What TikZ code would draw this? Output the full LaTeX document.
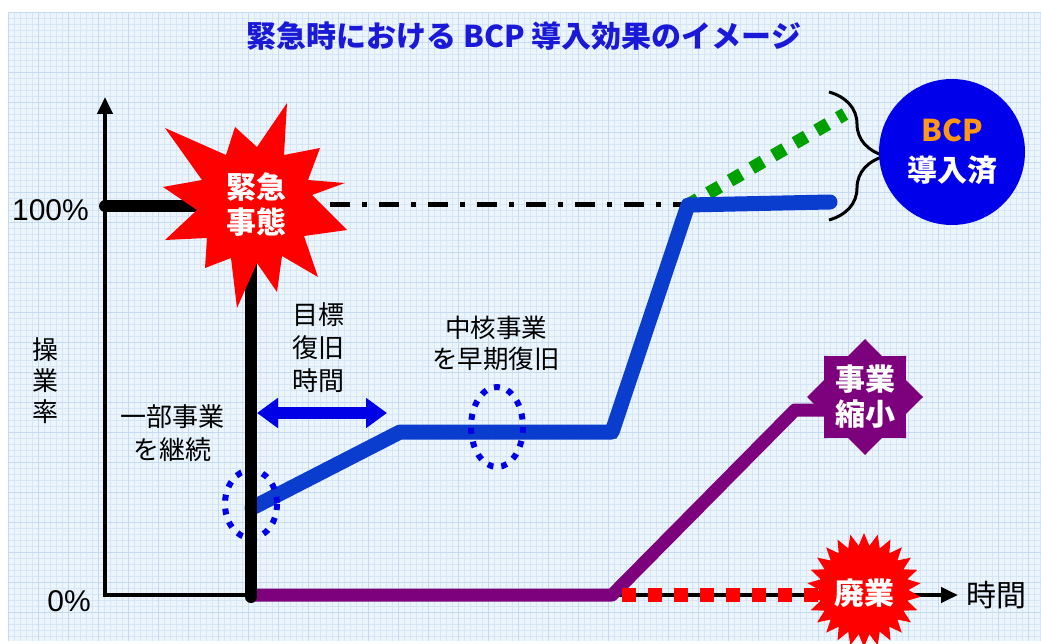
\documentclass[tikz,border=0pt]{standalone}
\usepackage{fontspec}
\setmainfont{Liberation Sans}
\newfontfamily\jp{Noto Sans CJK JP}
\usetikzlibrary{arrows.meta,shapes.geometric,decorations.pathreplacing}
\definecolor{bgblue}{RGB}{236,244,252}
\definecolor{gridc}{RGB}{214,230,247}
\definecolor{gridm}{RGB}{196,218,241}
\definecolor{titleblue}{RGB}{25,25,215}
\definecolor{lineblue}{RGB}{10,60,205}
\definecolor{circblue}{RGB}{0,0,235}
\definecolor{bcporange}{RGB}{255,150,20}
\definecolor{purp}{RGB}{125,0,125}
\definecolor{greend}{RGB}{0,160,0}
\definecolor{redb}{RGB}{255,0,0}
\definecolor{dotblue}{RGB}{0,0,230}
\tikzset{
  lbl/.style={font=\jp\fontsize{25}{32}\selectfont, align=center, inner sep=0pt, text=black},
  wtxt/.style={font=\jp\bfseries\fontsize{30}{35}\selectfont, text=white, align=center, inner sep=0pt},
  numlbl/.style={font=\fontsize{30}{34}\selectfont, inner sep=0pt, text=black},
  axisline/.style={line width=4pt, black},
  dotring/.style={dotblue, line width=6pt, dash pattern=on 6pt off 8pt},
}
\begin{document}
\begin{tikzpicture}[x=1pt,y=-1pt]
\useasboundingbox (0,0) rectangle (1041,644);
\fill[white] (0,0) rectangle (1041,644);
\fill[bgblue] (8,12) rectangle (1041,641);
\begin{scope}
\clip (8,12) rectangle (1041,641);
\foreach \x in {8,14,...,1040} \draw[gridc, line width=0.5pt] (\x,12) -- (\x,641);
\foreach \y in {12,18,...,640} \draw[gridc, line width=0.5pt] (8,\y) -- (1041,\y);
\foreach \x in {8,38,...,1040} \draw[gridm, line width=0.6pt] (\x,12) -- (\x,641);
\foreach \y in {12,42,...,640} \draw[gridm, line width=0.6pt] (8,\y) -- (1041,\y);
\end{scope}

% title
\node[font=\jp\bfseries\fontsize{30}{34}\selectfont, text=titleblue, inner sep=0pt] (title) at (524,36) {緊急時における BCP 導入効果のイメージ};

% coordinates
\coordinate (O) at (105,595);
\coordinate (ytop) at (105,97);
\coordinate (xend) at (958,595);
\coordinate (h0) at (105,206);
\coordinate (h1) at (210,206);
\coordinate (dd0) at (330,205);
\coordinate (dd1) at (688,205);
\coordinate (v0) at (251,215);
\coordinate (v1) at (251,597);
\coordinate (b0) at (252,508);
\coordinate (b1) at (400,432);
\coordinate (b2) at (612,432);
\coordinate (b3) at (688,205);
\coordinate (b4) at (830,202);
\coordinate (g4) at (845,114);
\coordinate (p0) at (252,595);
\coordinate (p1) at (612,595);
\coordinate (p2) at (795,410);
\coordinate (p3) at (850,410);
\coordinate (r0) at (622,595);
\coordinate (r1) at (820,595);
\coordinate (a0) at (257,413);
\coordinate (a1) at (387,413);
\coordinate (br0) at (829,92);
\coordinate (br1) at (829,220);

% dash-dot 100% line
\draw[line width=5pt, dash pattern=on 20pt off 12pt on 5pt off 12pt] (dd0) -- (dd1);

% axes
\draw[axisline, -{Triangle[length=17pt,width=15pt]}] ([yshift=2pt]O) -- (ytop);
\draw[axisline, -{Triangle[length=17pt,width=15pt]}] ([xshift=-2pt]O) -- (xend);

% 100% thick line
\draw[line width=12pt, line cap=round] (h0) -- (h1);

% green projected BCP line
\draw[greend, line width=13pt, dash pattern=on 13pt off 12pt] (b1) -- (b2) -- (b3) -- (g4);

% blue recovery line
\draw[lineblue, line width=15pt, line cap=round, line join=round] (b0) -- (b1) -- (b2) -- (b3) -- (b4);

% purple line
\draw[purp, line width=13pt, line cap=round, line join=round] (p0) -- (p1) -- (p2) -- (p3);

% red dotted
\draw[redb, line width=14pt, dash pattern=on 14pt off 12pt] (r0) -- (r1);

% dotted rings
\draw[dotring] (251,504) ellipse [x radius=26, y radius=34];
\draw[dotring] (497,427) ellipse [x radius=26, y radius=40];

% black vertical line
\draw[line width=12pt, line cap=round] (v0) -- (v1);

% emergency burst
\fill[redb] (287,103) -- (284,155) -- (320,148) -- (308,180) -- (345,183) -- (312,195)
  -- (347,230) -- (304,236) -- (318,277) -- (282,256) -- (277,292) -- (257,263)
  -- (237,308) -- (231,258) -- (205,268) -- (207,238) -- (165,240) -- (197,210)
  -- (163,187) -- (202,180) -- (165,128) -- (226,155) -- (235,127) -- (257,147) -- cycle;
\node[wtxt] (emerg) at (256,205) {緊急\\事態};

% double arrow
\draw[dotblue, line width=12pt, {Triangle[length=21pt,width=29pt]}-{Triangle[length=21pt,width=29pt]}] (a0) -- (a1);

% labels
\node[numlbl, anchor=east] (p100) at (89,210) {100\%};
\node[numlbl, anchor=east] (p0lbl) at (91,601) {0\%};
\node[lbl, font=\jp\fontsize{26}{31}\selectfont] (ylbl) at (45,381) {操\\業\\率};
\node[lbl, font=\jp\fontsize{26}{33}\selectfont] (keep) at (172,433) {一部事業\\を継続};
\node[lbl, font=\jp\fontsize{26}{33}\selectfont] (target) at (318,348) {目標\\復旧\\時間};
\node[lbl, font=\jp\fontsize{25.5}{31}\selectfont] (core) at (496,343) {中核事業\\を早期復旧};
\node[lbl, font=\jp\fontsize{30}{34}\selectfont, anchor=west] (time) at (966,595) {時間};

% purple star
\node[star, star points=8, star point ratio=1.31, minimum size=116pt, inner sep=0pt, fill=purp] (shrinkstar) at (865,397) {};
\node[wtxt] (shrink) at (865,397) {事業\\縮小};

% closure burst
\node[star, star points=26, star point ratio=1.28, minimum size=114pt, inner sep=0pt, fill=redb] (closestar) at (864,590) {};
\node[wtxt] (close) at (864,593) {廃業};

% brace and BCP circle
\draw[line width=3pt, decorate, decoration={brace, amplitude=56pt, aspect=0.5}] (br0) -- (br1);
\node[circle, fill=circblue, minimum size=146pt, inner sep=0pt, align=center,
      font=\jp\bfseries\fontsize{30}{40}\selectfont] (bcp) at (952,152)
      {\textcolor{bcporange}{BCP}\\\textcolor{white}{導入済}};
\end{tikzpicture}
\end{document}
